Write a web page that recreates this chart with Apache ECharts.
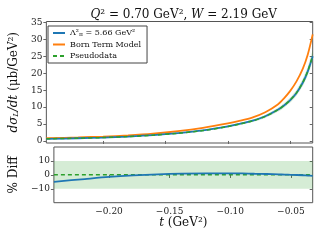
<!DOCTYPE html>
<html><head><meta charset="utf-8">
<script src="https://cdn.jsdelivr.net/npm/echarts@6/dist/echarts.min.js"></script>
<style>html,body{margin:0;padding:0;background:#fff}#c{width:320px;height:240px}</style>
</head><body><div id="c"></div>
<script>
const tVals       = [-0.2455,-0.22,-0.20,-0.18,-0.16,-0.14,-0.12,-0.10,-0.09,-0.08,-0.07,-0.06,-0.055,-0.05,-0.045,-0.04,-0.036,-0.032];
const lambdaModel = [0.60,0.80,1.00,1.30,1.70,2.30,3.10,4.30,5.10,6.00,7.30,9.20,10.50,12.10,14.20,17.20,20.50,25.00];
const bornModel   = [0.80,1.05,1.30,1.65,2.15,2.90,3.90,5.20,6.00,7.00,8.50,10.80,12.60,14.80,17.60,21.30,25.50,31.50];
const pseudoData  = [0.63,0.82,1.01,1.30,1.69,2.28,3.07,4.25,5.05,5.95,7.26,9.17,10.48,12.10,14.22,17.25,20.60,25.20];
const pseudoErr   = [0.05,0.06,0.07,0.09,0.11,0.14,0.19,0.26,0.30,0.36,0.44,0.55,0.63,0.73,0.85,1.03,1.24,1.51];
const pctDiff     = [-5.0,-3.0,-1.5,-0.4,0.4,0.9,1.1,1.1,1.0,0.8,0.6,0.3,0.2,0.0,-0.1,-0.3,-0.5,-0.7];
const pseudoDiff  = [0,0,0,0,0,0,0,0,0,0,0,0,0,0,0,0,0,0];
const diffBand    = [-10, 10];
const xTicks      = [-0.20,-0.15,-0.10,-0.05];
const yTicksTop   = [0,5,10,15,20,25,30,35];
const yTicksBot   = [-10,0,10];

const serif = 'DejaVu Serif';
const frame = '#555';
const tickC = '#666';
const pair = (xs, ys) => xs.map((x,i)=>[x, ys[i]]);
const fmtNum = v => (v<0?'\u2212':'') + Math.abs(v).toFixed(2);
const fmtInt = v => (v<0?'\u2212':'') + Math.abs(v);

function xAx(grid, opts){
  return Object.assign({
    type:'value', gridIndex:grid, min:-0.2455, max:-0.032,
    axisLine:{show:false}, splitLine:{show:false},
    axisTick:{show:true, customValues:xTicks, length:3, lineStyle:{color:tickC}},
    axisLabel:{show:false, customValues:xTicks, formatter:fmtNum, fontFamily:serif, fontSize:9, color:'#222', margin:4}
  }, opts);
}
function yAx(grid, min, max, ticks, opts){
  return Object.assign({
    type:'value', gridIndex:grid, min:min, max:max,
    axisLine:{show:false}, splitLine:{show:false},
    axisTick:{show:true, customValues:ticks, length:3, lineStyle:{color:tickC}},
    axisLabel:{show:false, customValues:ticks, formatter:fmtInt, fontFamily:serif, fontSize:9, color:'#222', margin:4}
  }, opts);
}

function bandItem(params, api){
  const up = [], lo = [];
  for (let i=0;i<tVals.length;i++){
    up.push(api.coord([tVals[i], pseudoData[i]+pseudoErr[i]]));
    lo.push(api.coord([tVals[i], pseudoData[i]-pseudoErr[i]]));
  }
  return {type:'polygon', shape:{points:up.concat(lo.reverse()), smooth:0.2},
    style:{fill:'rgba(44,160,44,0.22)'}, silent:true};
}

const lineCommon = {symbol:'none', smooth:0.3, xAxisIndex:0, yAxisIndex:0};

const chart = echarts.init(document.getElementById('c'), null, {renderer:'canvas'});
chart.setOption({
  animation:false,
  backgroundColor:'#fff',
  title:{
    text:'{i|Q}{n|² = 0.70 GeV², }{i|W}{n| = 2.19 GeV}',
    left:178.7, textAlign:'center', top:4,
    textStyle:{fontWeight:'normal', rich:{
      i:{fontFamily:serif, fontStyle:'italic', fontWeight:'normal', fontSize:12, color:'#111'},
      n:{fontFamily:serif, fontWeight:'normal', fontSize:12, color:'#111'}
    }}
  },
  legend:{
    orient:'vertical', left:48, top:26,
    data:['lambda','Born Term Model','Pseudodata'],
    itemWidth:12, itemHeight:8, itemGap:3.5,
    padding:[3,6,3,4],
    borderColor:'#444', borderWidth:1, backgroundColor:'#fff',
    itemStyle:{opacity:0},
    formatter:n => n==='lambda' ? '{n|Λ²}{s|π}{n| = 5.66 GeV²}' : n,
    textStyle:{fontFamily:serif, fontSize:8, color:'#111',
      rich:{n:{fontFamily:serif, fontSize:8, color:'#111'}, s:{fontFamily:serif, fontSize:6, color:'#111', verticalAlign:'bottom'}}}
  },
  grid:[
    {left:44.7, right:7.3, top:21.5, bottom:97, show:true, borderColor:frame, borderWidth:1, backgroundColor:'transparent'},
    {left:44.7, right:7.3, top:147, bottom:37.3, show:true, borderColor:frame, borderWidth:1, backgroundColor:'transparent'}
  ],
  xAxis:[
    xAx(0,{}),
    xAx(0,{position:'top', axisTick:{show:true, inside:true, customValues:xTicks, length:3, lineStyle:{color:tickC}}}),
    xAx(1,{axisLabel:{show:true, customValues:xTicks, formatter:fmtNum, fontFamily:serif, fontSize:9, color:'#222', margin:4},
      name:'{i|t}{n| (GeV²)}', nameLocation:'middle', nameGap:14,
      nameTextStyle:{rich:{i:{fontFamily:serif, fontStyle:'italic', fontSize:12, color:'#111'}, n:{fontFamily:serif, fontSize:12, color:'#111'}}}}),
    xAx(1,{position:'top', axisTick:{show:true, inside:true, customValues:xTicks, length:3, lineStyle:{color:tickC}}})
  ],
  yAxis:[
    yAx(0,-0.6,35.3,yTicksTop,{axisLabel:{show:true, customValues:yTicksTop, formatter:fmtInt, fontFamily:serif, fontSize:9, color:'#222', margin:4},
      name:'{i|dσ}{s|L}{i|/dt}{n| (μb/GeV²)}', nameLocation:'middle', nameGap:16,
      nameTextStyle:{rich:{
        i:{fontFamily:serif, fontStyle:'italic', fontSize:12, color:'#111'},
        s:{fontFamily:serif, fontStyle:'italic', fontSize:8, color:'#111', verticalAlign:'bottom'},
        n:{fontFamily:serif, fontSize:12, color:'#111'}}}}),
    yAx(0,-0.6,35.3,yTicksTop,{position:'right', axisTick:{show:true, inside:true, customValues:yTicksTop, length:3, lineStyle:{color:tickC}}}),
    yAx(1,-20,20,yTicksBot,{axisLabel:{show:true, customValues:yTicksBot, formatter:fmtInt, fontFamily:serif, fontSize:9, color:'#222', margin:4},
      name:'% Diff', nameLocation:'middle', nameGap:22,
      nameTextStyle:{fontFamily:serif, fontSize:12, color:'#111'}}),
    yAx(1,-20,20,yTicksBot,{position:'right', axisTick:{show:true, inside:true, customValues:yTicksBot, length:3, lineStyle:{color:tickC}}})
  ],
  series:[
    {type:'custom', name:'band', xAxisIndex:0, yAxisIndex:0, data:[[tVals[0], pseudoData[0]]], renderItem:bandItem, silent:true, clip:true},
    Object.assign({type:'line', name:'Born Term Model', data:pair(tVals,bornModel),
      color:'#ff7f0e', lineStyle:{width:1.8, color:'#ff7f0e'}}, lineCommon),
    Object.assign({type:'line', name:'lambda', data:pair(tVals,lambdaModel),
      color:'#1f77b4', lineStyle:{width:1.8, color:'#1f77b4'}}, lineCommon),
    Object.assign({type:'line', name:'Pseudodata', data:pair(tVals,pseudoData),
      color:'#2ca02c', lineStyle:{width:1.5, color:'#2ca02c', type:[4,3]}}, lineCommon),
    {type:'line', name:'diffPseudo', xAxisIndex:2, yAxisIndex:2, data:pair(tVals,pseudoDiff),
      symbol:'none', lineStyle:{width:1.5, color:'#2ca02c', type:[4,3]},
      markArea:{silent:true, itemStyle:{color:'rgba(44,160,44,0.2)'}, data:[[{yAxis:diffBand[0]},{yAxis:diffBand[1]}]]}},
    {type:'line', name:'diffLambda', xAxisIndex:2, yAxisIndex:2, data:pair(tVals,pctDiff),
      symbol:'none', smooth:0.3, lineStyle:{width:1.8, color:'#1f77b4'}}
  ]
});
</script>
</body></html>
